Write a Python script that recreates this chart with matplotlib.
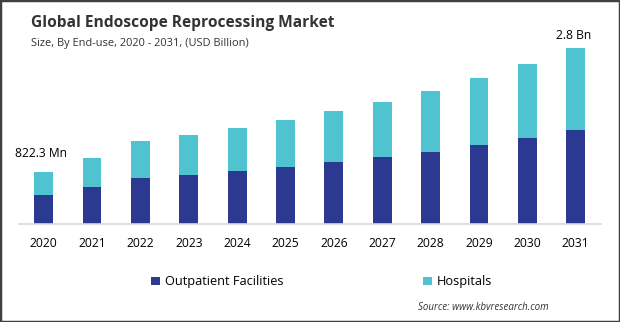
import numpy as np
import matplotlib.pyplot as plt
from matplotlib.patches import Rectangle

years = ['2020', '2021', '2022', '2023', '2024', '2025', '2026', '2027', '2028', '2029', '2030', '2031']
outpatient = [0.46, 0.59, 0.73, 0.78, 0.84, 0.91, 0.99, 1.07, 1.15, 1.26, 1.37, 1.50]
hospitals = [0.3623, 0.46, 0.59, 0.64, 0.69, 0.74, 0.81, 0.87, 0.97, 1.06, 1.18, 1.30]
labels = ['Outpatient Facilities', 'Hospitals']
colors = ['#2B3990', '#4FC3CF']

plt.rcParams['font.family'] = ['Open Sans', 'DejaVu Sans']

fig = plt.figure(figsize=(6.2, 3.22), dpi=100)
ax = fig.add_axes([0.0306, 0.3043, 0.9387, 0.5714])

x = np.arange(len(years))
ax.bar(x, outpatient, width=0.39, color=colors[0], label=labels[0])
ax.bar(x, hospitals, width=0.39, bottom=outpatient, color=colors[1], label=labels[1])

ax.set_xlim(-0.51, 11.52)
ax.set_ylim(0, 2.927)
ax.set_yticks([])
ax.set_xticks(x)
ax.set_xticklabels(years, fontsize=8.7)
ax.tick_params(axis='x', length=0, pad=9)
for s in ['top', 'right', 'left']:
    ax.spines[s].set_visible(False)
ax.spines['bottom'].set_color('#D9D9D9')
ax.spines['bottom'].set_linewidth(1.2)

totals = [o + h for o, h in zip(outpatient, hospitals)]
ax.text(x[0] - 0.05, totals[0] + 0.2, '822.3 Mn', ha='center', va='bottom', fontsize=8.7)
ax.text(x[-1] - 0.05, totals[-1] + 0.1, '2.8 Bn', ha='center', va='bottom', fontsize=8.7)

fig.text(0.05, 0.93, 'Global Endoscope Reprocessing Market', fontsize=11.2,
         fontweight='bold', color='#333333', va='center')
fig.text(0.05, 0.866, 'Size, By End-use, 2020 - 2031, (USD Billion)', fontsize=7.9,
         color='#333333', va='center')

ax.legend(loc='center', bbox_to_anchor=(0.52, -0.315), ncol=2, frameon=False,
          fontsize=9.2, handlelength=0.7, handleheight=0.7, columnspacing=10.9,
          handletextpad=0.4)

fig.text(0.885, 0.044, 'Source: www.kbvresearch.com', fontsize=7, style='italic',
         color='#333333', ha='right', va='center')

fig.patches.append(Rectangle((0, 0), 1, 1, transform=fig.transFigure, fill=False,
                             edgecolor='#404040', linewidth=2.5))

fig.savefig('out.png', dpi=100)
